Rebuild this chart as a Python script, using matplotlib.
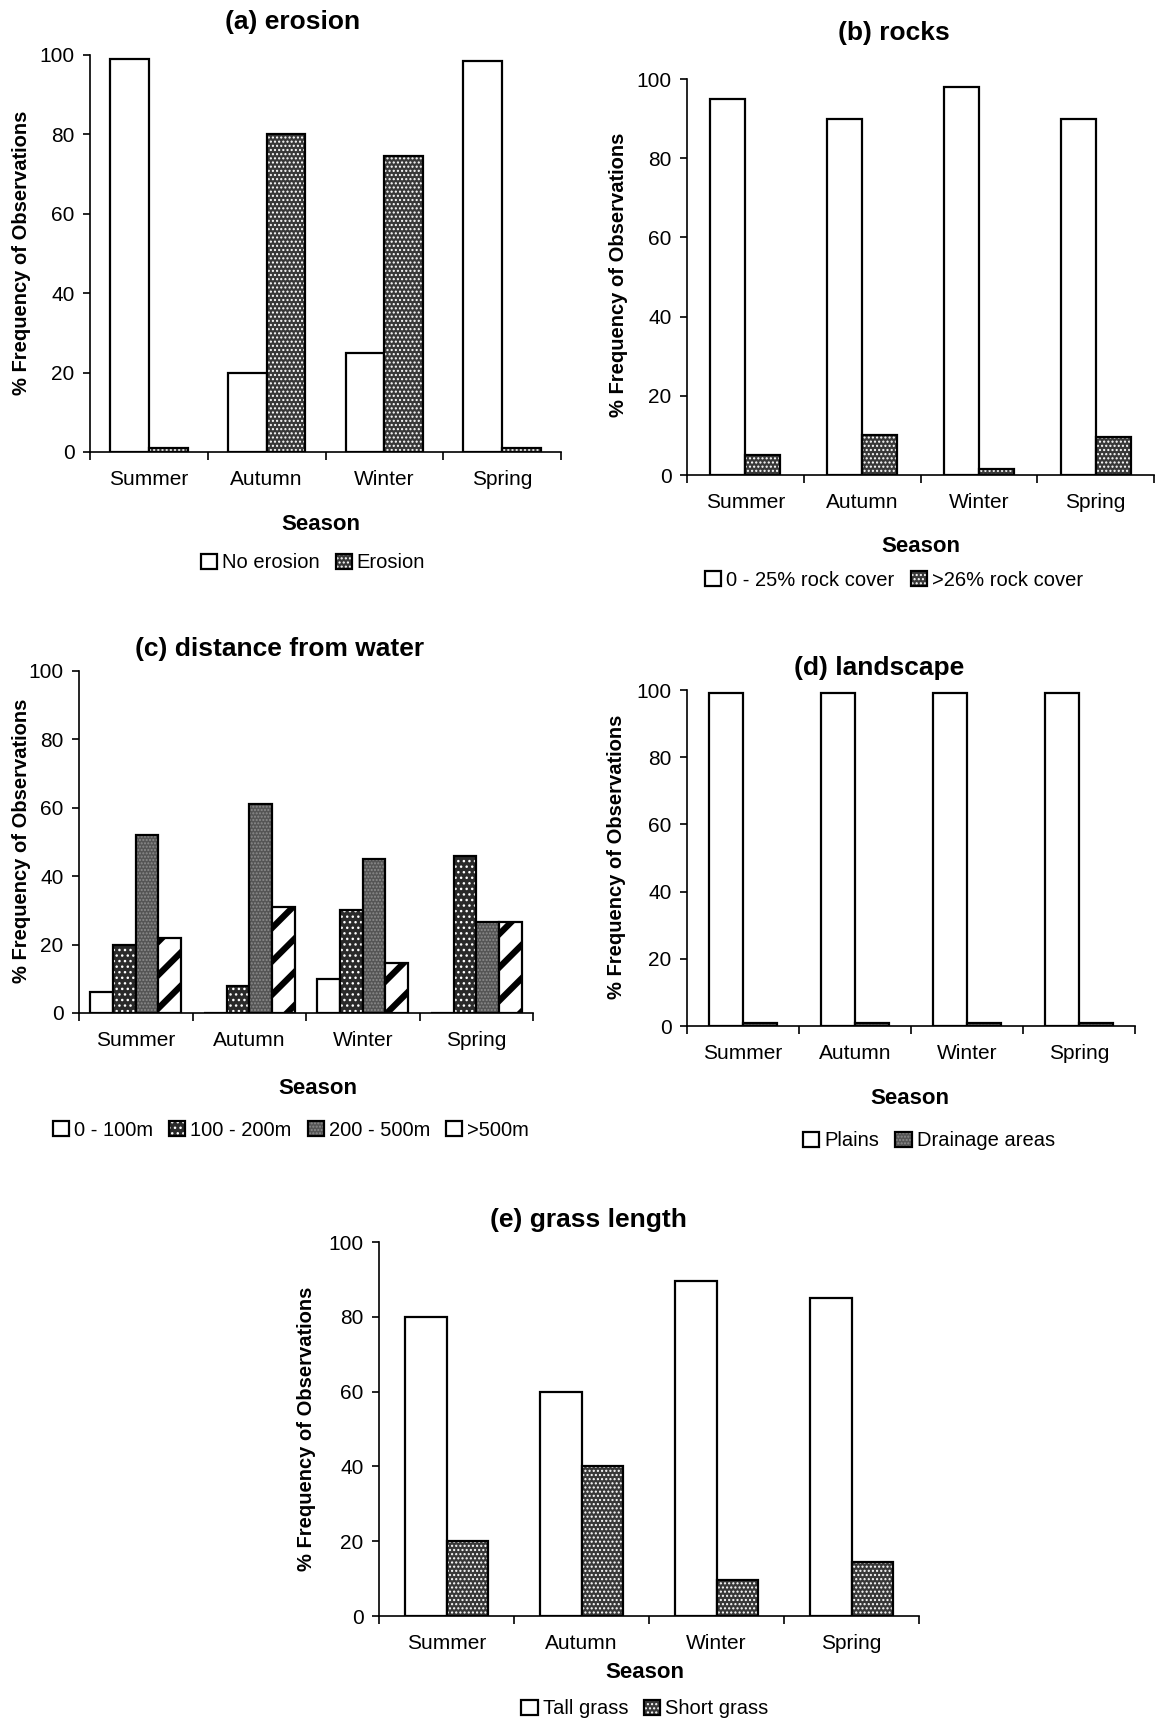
import matplotlib
matplotlib.use('Agg')
import matplotlib.pyplot as plt
import numpy as np

plt.rcParams['font.family'] = ['Liberation Sans', 'DejaVu Sans']

W, H = 1164, 1723

# --- data ---
seasons = ['Summer', 'Autumn', 'Winter', 'Spring']

erosion_labels = ['No erosion', 'Erosion']
no_erosion = [99, 20, 25, 98.5]
erosion = [1, 80, 74.5, 1]

rocks_labels = ['0 - 25% rock cover', '>26% rock cover']
rock_low = [95, 90, 98, 90]
rock_high = [5, 10, 1.5, 9.5]

water_labels = ['0 - 100m', '100 - 200m', '200 - 500m', '>500m']
w_0_100 = [6, 0, 10, 0]
w_100_200 = [20, 8, 30, 46]
w_200_500 = [52, 61, 45, 26.5]
w_500 = [22, 31, 14.5, 26.5]

land_labels = ['Plains', 'Drainage areas']
plains = [99, 99, 99, 99]
drainage = [1, 0.8, 0.8, 0.8]

grass_labels = ['Tall grass', 'Short grass']
tall_grass = [80, 60, 89.5, 85]
short_grass = [20, 40, 9.5, 14.5]

# fill styles: (face, hatch, hatch colour, hatch linewidth)
STYLES = {
    'white': ('white', None, 'white', 1.0),
    'dots': ('#383838', '....', 'white', 1.0),
    'bigdots': ('#2a2a2a', '...', 'white', 1.0),
    'dark': ('#555555', '.....', '#8c8c8c', 1.0),
    'stripes': ('white', '/', 'black', 4.5),
}


def px_axes(x0, y0, x1, y1):
    # pixel box (left, top(100), right, bottom(0)) -> figure axes
    return fig.add_axes([x0 / W, 1 - y1 / H, (x1 - x0) / W, (y1 - y0) / H])


def bar_panel(ax, series, styles, group_w):
    n = len(series)
    bw = group_w / n
    x = np.arange(len(seasons))
    handles = []
    for i, (vals, st) in enumerate(zip(series, styles)):
        face, hatch, hcol, hlw = STYLES[st]
        pos = x - group_w / 2 + bw * (i + 0.5)
        with plt.rc_context({'hatch.linewidth': hlw}):
            b1 = ax.bar(pos, vals, bw, color=face, edgecolor=hcol, hatch=hatch, linewidth=0)
        b2 = ax.bar(pos, vals, bw, fill=False, edgecolor='black', linewidth=1.6)
        handles.append((b1.patches[0], b2.patches[0]))
    ax.set_xlim(-0.5, len(seasons) - 0.5)
    ax.set_ylim(0, 100)
    ax.set_yticks([0, 20, 40, 60, 80, 100])
    ax.set_xticks(x)
    ax.set_xticklabels(seasons)
    ax.set_xticks(np.arange(len(seasons) + 1) - 0.5, minor=True)
    ax.tick_params(axis='x', which='major', length=0, pad=13, labelsize=15)
    ax.tick_params(axis='x', which='minor', length=6, width=1.2, direction='out')
    ax.tick_params(axis='y', length=5, width=1.2, pad=6, labelsize=15)
    for s in ['top', 'right']:
        ax.spines[s].set_visible(False)
    for s in ['left', 'bottom']:
        ax.spines[s].set_linewidth(1.2)
    return handles


def decorate(ax, title, handles, labels, title_xy, ylab_xy, season_xy, leg_xy, ncol):
    fig.text(title_xy[0] / W, 1 - title_xy[1] / H, title, fontsize=19,
             fontweight='bold', ha='center', va='center')
    fig.text(ylab_xy[0] / W, 1 - ylab_xy[1] / H, '% Frequency of Observations',
             fontsize=14.5, fontweight='bold', rotation=90, ha='center', va='center')
    fig.text(season_xy[0] / W, 1 - season_xy[1] / H, 'Season', fontsize=16,
             fontweight='bold', ha='center', va='center')
    ax.legend(handles, labels, loc='center', bbox_to_anchor=(leg_xy[0] / W, 1 - leg_xy[1] / H),
              bbox_transform=fig.transFigure, ncol=ncol, frameon=False, fontsize=14.5,
              handlelength=0.8, handleheight=0.8, handletextpad=0.25, columnspacing=0.8)


fig = plt.figure(figsize=(W / 100, H / 100), dpi=100)

# (a) erosion
ax = px_axes(90, 55, 561, 452)
hs = bar_panel(ax, [no_erosion, erosion], ['white', 'dots'], 0.66)
decorate(ax, '(a) erosion', hs, erosion_labels, (293, 22), (22, 253), (321, 525), (313, 563), 2)

# (b) rocks
ax = px_axes(687, 79, 1154, 475)
hs = bar_panel(ax, [rock_low, rock_high], ['white', 'dots'], 0.6)
decorate(ax, '(b) rocks', hs, rocks_labels, (894, 33), (619, 275), (921, 546), (894, 580), 2)

# (c) distance from water
ax = px_axes(79, 671, 533, 1013)
hs = bar_panel(ax, [w_0_100, w_100_200, w_200_500, w_500],
               ['white', 'bigdots', 'dark', 'stripes'], 0.8)
decorate(ax, '(c) distance from water', hs, water_labels, (280, 649), (22, 841), (318, 1089), (291, 1130), 4)

# (d) landscape
ax = px_axes(687, 690, 1135, 1026)
hs = bar_panel(ax, [plains, drainage], ['white', 'dark'], 0.6)
decorate(ax, '(d) landscape', hs, land_labels, (879, 668), (616, 857), (910, 1099), (929, 1141), 2)

# (e) grass length
ax = px_axes(379, 1242, 919, 1616)
hs = bar_panel(ax, [tall_grass, short_grass], ['white', 'dots'], 0.62)
decorate(ax, '(e) grass length', hs, grass_labels, (588, 1220), (306, 1429), (645, 1673), (645, 1709), 2)

fig.savefig('out.png', dpi=100, facecolor='white')
